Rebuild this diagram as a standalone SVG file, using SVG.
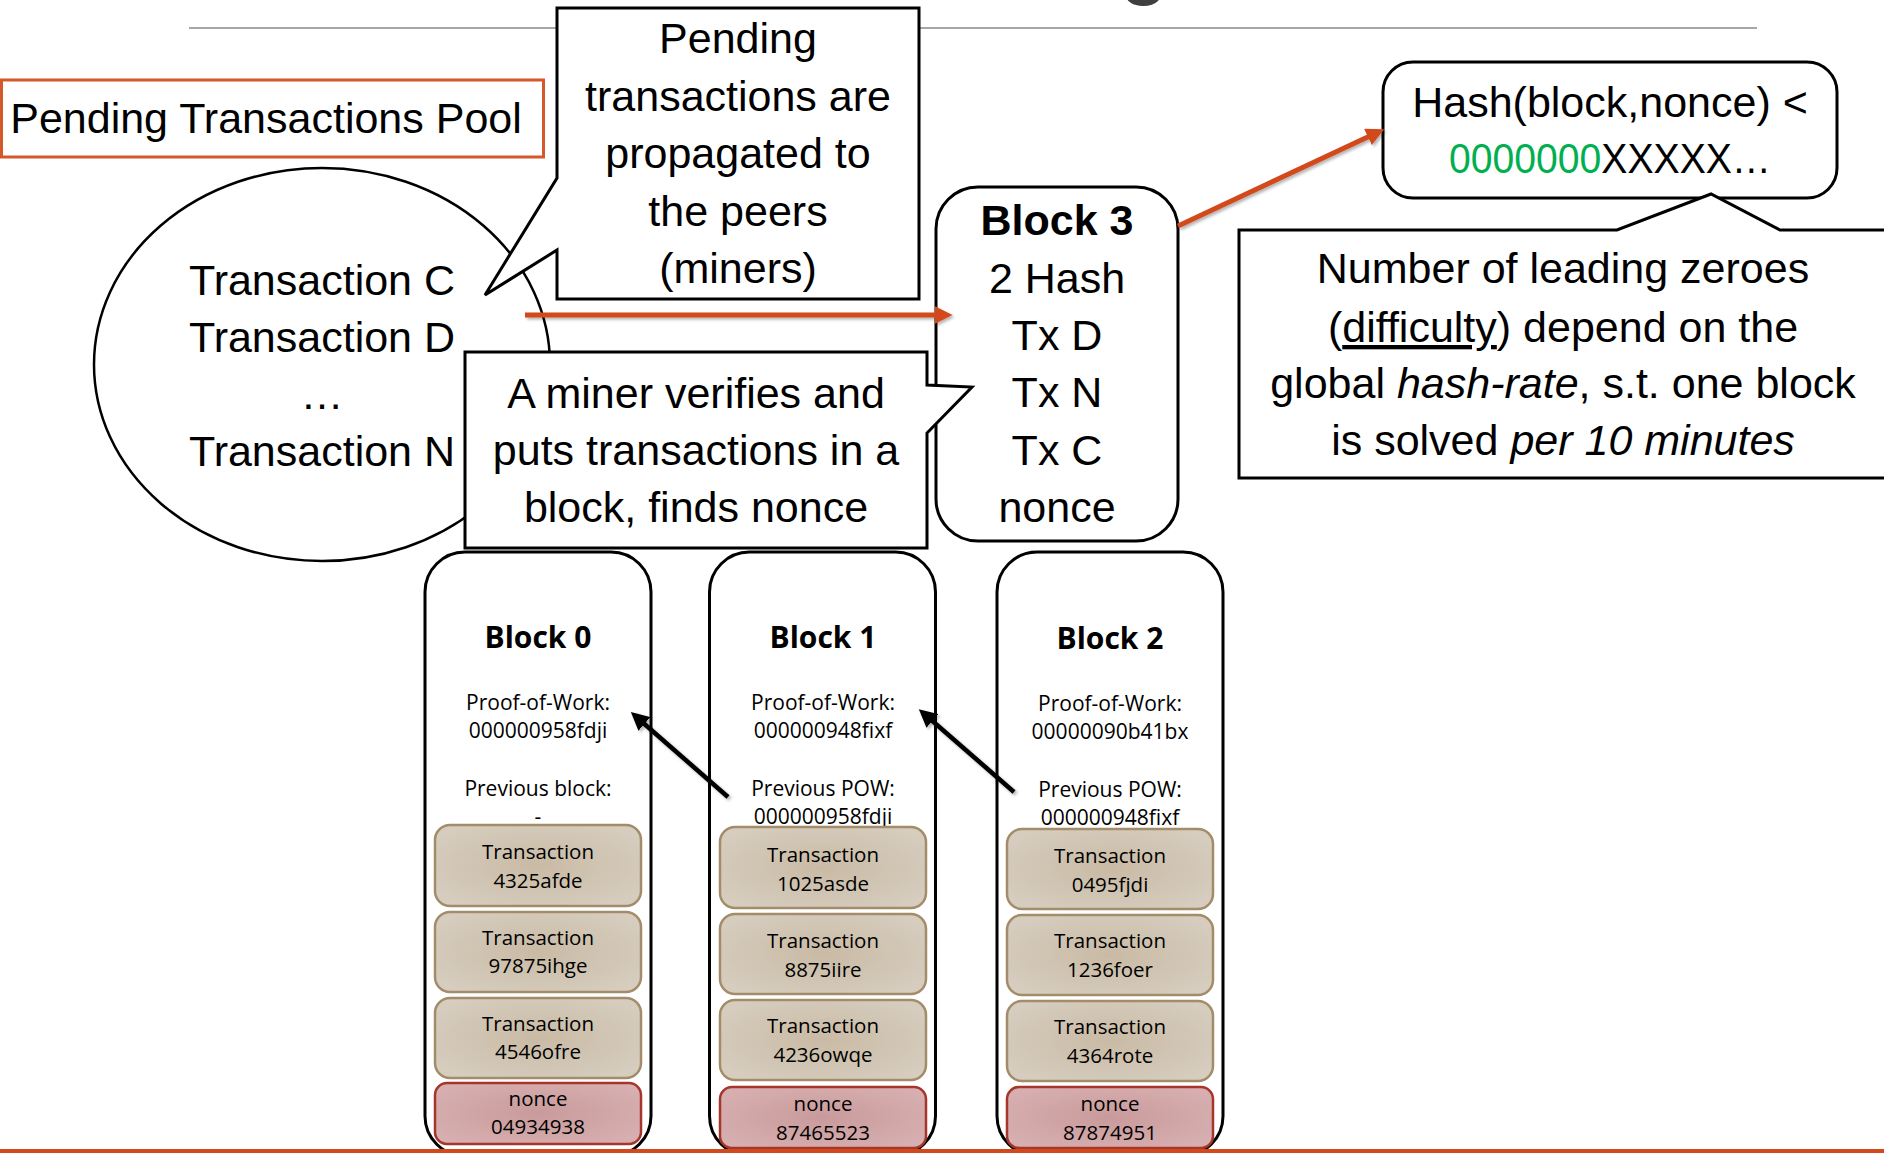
<svg xmlns="http://www.w3.org/2000/svg" width="1884" height="1153" viewBox="0 0 1884 1153">
<defs>
<style>
.cal{font-family:"Liberation Sans",Arial,sans-serif;font-size:43px;fill:#000;text-anchor:middle}
.os{font-family:"Open Sans","Liberation Sans",sans-serif;fill:#000;text-anchor:middle}
.bt{font-size:30px;font-weight:bold}
.bs{font-size:21px}
.ts{font-size:20.5px}
.box{fill:#fff;stroke:#000;stroke-width:3}
.blk{fill:#fff;stroke:#000;stroke-width:3}
.tx{fill:url(#gTx);stroke:#a38c6a;stroke-width:2.5}
.nc{fill:url(#gNc);stroke:#a6362c;stroke-width:2.5}
.ra{stroke:#d24a1b;stroke-width:5;fill:none;marker-end:url(#ao);filter:url(#sh)}
.ba{stroke:#000;stroke-width:4.5;fill:none;marker-end:url(#ab);filter:url(#sh)}
</style>
<radialGradient id="gTx" cx="50%" cy="50%" r="60%">
<stop offset="0" stop-color="#c9baa4"/>
<stop offset="1" stop-color="#d6cdbf"/>
</radialGradient>
<radialGradient id="gNc" cx="50%" cy="50%" r="60%">
<stop offset="0" stop-color="#c99a9b"/>
<stop offset="1" stop-color="#d7afb0"/>
</radialGradient>
<filter id="sh" filterUnits="userSpaceOnUse" x="0" y="0" width="1884" height="1153">
<feDropShadow dx="2" dy="2" stdDeviation="1.5" flood-color="#000" flood-opacity="0.3"/>
</filter>
<marker id="ao" markerUnits="userSpaceOnUse" markerWidth="18" markerHeight="18" viewBox="0 0 16 16" refX="4" refY="8" orient="auto">
<path d="M0,0 L16,8 L0,16 z" fill="#d24a1b"/>
</marker>
<marker id="ab" markerUnits="userSpaceOnUse" markerWidth="18" markerHeight="18" viewBox="0 0 16 16" refX="4" refY="8" orient="auto">
<path d="M0,0 L16,8 L0,16 z" fill="#000"/>
</marker>
</defs>

<rect x="0" y="0" width="1884" height="1153" fill="#fff"/>

<g id="title-fragment">
<text x="1119" y="-13" font-family="Liberation Sans,Arial,sans-serif" font-size="90" fill="#3f3f3f">g</text>
<line x1="189" y1="28" x2="1757" y2="28" stroke="#a6a6a6" stroke-width="2"/>
</g>

<g id="pool-label">
<rect x="1.5" y="80" width="542" height="77" fill="#fff" stroke="#d5582b" stroke-width="3"/>
<text class="cal" x="266" y="133" font-size="42">Pending Transactions Pool</text>
</g>

<g id="pool">
<ellipse cx="322" cy="364.5" rx="228" ry="196.5" fill="#fff" stroke="#000" stroke-width="2.5"/>
<text class="cal" x="322" y="295">Transaction C</text>
<text class="cal" x="322" y="352">Transaction D</text>
<text class="cal" x="322" y="409">…</text>
<text class="cal" x="322" y="466">Transaction N</text>
</g>

<g id="callout-propagate">
<path class="box" d="M557,8 L919,8 L919,299 L557,299 L557,250 L485,295 L557,178 Z"/>
<text class="cal" x="738" y="53">Pending</text>
<text class="cal" x="738" y="111">transactions are</text>
<text class="cal" x="738" y="168">propagated to</text>
<text class="cal" x="738" y="226">the peers</text>
<text class="cal" x="738" y="283">(miners)</text>
</g>

<g id="block3">
<rect class="blk" x="936" y="187" width="242" height="354" rx="42"/>
<text class="cal" x="1057" y="235" font-weight="bold" font-size="40">Block 3</text>
<text class="cal" x="1057" y="293" font-size="42">2 Hash</text>
<text class="cal" x="1057" y="350" font-size="42">Tx D</text>
<text class="cal" x="1057" y="407" font-size="42">Tx N</text>
<text class="cal" x="1057" y="465" font-size="42">Tx C</text>
<text class="cal" x="1057" y="522" font-size="42">nonce</text>
</g>

<g id="callout-miner">
<path class="box" d="M465,352 L927,352 L927,385 L972,387 L927,433 L927,548 L465,548 Z"/>
<text class="cal" x="696" y="408">A miner verifies and</text>
<text class="cal" x="696" y="465">puts transactions in a</text>
<text class="cal" x="696" y="522">block, finds nonce</text>
</g>

<g id="hash-condition">
<rect class="box" x="1383" y="62" width="454" height="136" rx="30"/>
<text class="cal" x="1610" y="117">Hash(block,nonce) &lt;</text>
<text class="cal" x="1610" y="173" textLength="322" lengthAdjust="spacingAndGlyphs"><tspan fill="#00b050">0000000</tspan>XXXXX…</text>
</g>

<g id="difficulty-note">
<path class="box" d="M1239,230 L1617,230 L1711,194 L1780,230 L1890,230 L1890,478 L1239,478 Z"/>
<text class="cal" x="1563" y="283" font-size="44">Number of leading zeroes</text>
<text class="cal" x="1563" y="342" font-size="44">(<tspan text-decoration="underline">difficulty</tspan>) depend on the</text>
<text class="cal" x="1563" y="398" font-size="44">global <tspan font-style="italic">hash-rate</tspan>, s.t. one block</text>
<text class="cal" x="1563" y="455" font-size="44">is solved <tspan font-style="italic">per 10 minutes</tspan></text>
</g>

<g id="block0">
<rect class="blk" x="425" y="552" width="226" height="604" rx="40"/>
<text class="os bt" x="538" y="648">Block 0</text>
<text class="os bs" x="538" y="710">Proof-of-Work:</text>
<text class="os bs" x="538" y="738">000000958fdji</text>
<text class="os bs" x="538" y="796">Previous block:</text>
<text class="os bs" x="538" y="824">-</text>
<g id="b0-tx1"><rect class="tx" x="435" y="825" width="206" height="81" rx="15"/>
<text class="os ts" x="538" y="859">Transaction</text><text class="os ts" x="538" y="888">4325afde</text></g>
<g id="b0-tx2"><rect class="tx" x="435" y="912" width="206" height="80" rx="15"/>
<text class="os ts" x="538" y="945">Transaction</text><text class="os ts" x="538" y="973">97875ihge</text></g>
<g id="b0-tx3"><rect class="tx" x="435" y="998" width="206" height="80" rx="15"/>
<text class="os ts" x="538" y="1031">Transaction</text><text class="os ts" x="538" y="1059">4546ofre</text></g>
<g id="b0-nonce"><rect class="nc" x="435" y="1083" width="206" height="61" rx="12"/>
<text class="os ts" x="538" y="1106">nonce</text><text class="os ts" x="538" y="1134">04934938</text></g>
</g>

<g id="block1">
<rect class="blk" x="709.5" y="552" width="226" height="604" rx="40"/>
<text class="os bt" x="823" y="648">Block 1</text>
<text class="os bs" x="823" y="710">Proof-of-Work:</text>
<text class="os bs" x="823" y="738">000000948fixf</text>
<text class="os bs" x="823" y="796">Previous POW:</text>
<text class="os bs" x="823" y="824">000000958fdji</text>
<g id="b1-tx1"><rect class="tx" x="720" y="827" width="206" height="81" rx="15"/>
<text class="os ts" x="823" y="862">Transaction</text><text class="os ts" x="823" y="891">1025asde</text></g>
<g id="b1-tx2"><rect class="tx" x="720" y="914" width="206" height="80" rx="15"/>
<text class="os ts" x="823" y="948">Transaction</text><text class="os ts" x="823" y="977">8875iire</text></g>
<g id="b1-tx3"><rect class="tx" x="720" y="1000" width="206" height="80" rx="15"/>
<text class="os ts" x="823" y="1033">Transaction</text><text class="os ts" x="823" y="1062">4236owqe</text></g>
<g id="b1-nonce"><rect class="nc" x="720" y="1087" width="206" height="61" rx="12"/>
<text class="os ts" x="823" y="1111">nonce</text><text class="os ts" x="823" y="1140">87465523</text></g>
</g>

<g id="block2">
<rect class="blk" x="997" y="552" width="226" height="604" rx="40"/>
<text class="os bt" x="1110" y="649">Block 2</text>
<text class="os bs" x="1110" y="711">Proof-of-Work:</text>
<text class="os bs" x="1110" y="739">00000090b41bx</text>
<text class="os bs" x="1110" y="797">Previous POW:</text>
<text class="os bs" x="1110" y="825">000000948fixf</text>
<g id="b2-tx1"><rect class="tx" x="1007" y="829" width="206" height="80" rx="15"/>
<text class="os ts" x="1110" y="863">Transaction</text><text class="os ts" x="1110" y="892">0495fjdi</text></g>
<g id="b2-tx2"><rect class="tx" x="1007" y="915" width="206" height="80" rx="15"/>
<text class="os ts" x="1110" y="948">Transaction</text><text class="os ts" x="1110" y="977">1236foer</text></g>
<g id="b2-tx3"><rect class="tx" x="1007" y="1001" width="206" height="80" rx="15"/>
<text class="os ts" x="1110" y="1034">Transaction</text><text class="os ts" x="1110" y="1063">4364rote</text></g>
<g id="b2-nonce"><rect class="nc" x="1007" y="1087" width="206" height="61" rx="12"/>
<text class="os ts" x="1110" y="1111">nonce</text><text class="os ts" x="1110" y="1140">87874951</text></g>
</g>

<g id="connectors">
<line class="ra" x1="525" y1="315" x2="939" y2="315"/>
<line class="ra" x1="1178" y1="226" x2="1372" y2="135"/>
<line class="ba" x1="728" y1="797" x2="641" y2="721"/>
<line class="ba" x1="1014" y1="792" x2="929" y2="718"/>
</g>

<rect id="footer-rule" x="0" y="1149" width="1884" height="4" fill="#d24a1b"/>
</svg>
